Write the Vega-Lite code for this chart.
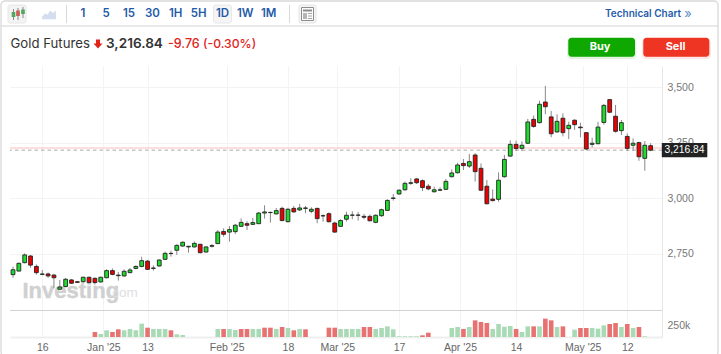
{"$schema":"https://vega.github.io/schema/vega-lite/v6.json","width":652,"height":271,"autosize":"none","padding":{"left":10,"top":66,"right":59,"bottom":17},"background":"white","config":{"view":{"stroke":null},"text":{"font":"Inter"}},
"datasets":{"candles":[
{"i":0,"o":2655,"h":2691,"l":2641,"c":2677},{"i":1,"o":2671,"h":2709,"l":2670,"c":2706},{"i":2,"o":2709,"h":2751,"l":2706,"c":2744},{"i":3,"o":2739,"h":2744,"l":2686,"c":2698},{"i":4,"o":2692,"h":2701,"l":2655,"c":2664},{"i":5,"o":2656,"h":2676,"l":2652,"c":2658},{"i":6,"o":2658,"h":2665,"l":2641,"c":2649},{"i":7,"o":2653,"h":2658,"l":2593,"c":2641},{"i":8,"o":2589,"h":2631,"l":2586,"c":2599},{"i":9,"o":2601,"h":2640,"l":2598,"c":2634},
{"i":10,"o":2631,"h":2635,"l":2613,"c":2616},{"i":11,"o":2623,"h":2625,"l":2619,"c":2620},{"i":12,"o":2623,"h":2646,"l":2619,"c":2643},{"i":13,"o":2643,"h":2646,"l":2616,"c":2619},{"i":14,"o":2638,"h":2643,"l":2610,"c":2619},{"i":15,"o":2622,"h":2646,"l":2619,"c":2643},{"i":16,"o":2641,"h":2679,"l":2638,"c":2673},{"i":17,"o":2673,"h":2683,"l":2652,"c":2656},{"i":18,"o":2650,"h":2667,"l":2628,"c":2653},{"i":19,"o":2649,"h":2679,"l":2646,"c":2670},
{"i":20,"o":2664,"h":2685,"l":2661,"c":2676},{"i":21,"o":2683,"h":2697,"l":2679,"c":2692},{"i":22,"o":2692,"h":2736,"l":2688,"c":2718},{"i":23,"o":2716,"h":2721,"l":2676,"c":2679},{"i":24,"o":2683,"h":2697,"l":2673,"c":2685},{"i":25,"o":2694,"h":2724,"l":2691,"c":2721},{"i":26,"o":2724,"h":2759,"l":2721,"c":2751},{"i":27,"o":2750,"h":2763,"l":2736,"c":2751},{"i":28,"o":2765,"h":2792,"l":2744,"c":2787},{"i":29,"o":2784,"h":2805,"l":2781,"c":2801},
{"i":30,"o":2780,"h":2784,"l":2754,"c":2783},{"i":31,"o":2780,"h":2805,"l":2777,"c":2796},{"i":32,"o":2792,"h":2793,"l":2751,"c":2754},{"i":33,"o":2757,"h":2784,"l":2754,"c":2780},{"i":34,"o":2783,"h":2793,"l":2777,"c":2786},{"i":35,"o":2795,"h":2856,"l":2793,"c":2847},{"i":36,"o":2850,"h":2864,"l":2826,"c":2837},{"i":37,"o":2847,"h":2874,"l":2804,"c":2858},{"i":38,"o":2849,"h":2884,"l":2838,"c":2878},{"i":39,"o":2873,"h":2909,"l":2870,"c":2891},
{"i":40,"o":2885,"h":2896,"l":2856,"c":2878},{"i":41,"o":2882,"h":2911,"l":2879,"c":2890},{"i":42,"o":2885,"h":2938,"l":2884,"c":2933},{"i":43,"o":2933,"h":2968,"l":2908,"c":2938},{"i":44,"o":2935,"h":2939,"l":2890,"c":2936},{"i":45,"o":2929,"h":2956,"l":2927,"c":2944},{"i":46,"o":2954,"h":2962,"l":2896,"c":2899},{"i":47,"o":2894,"h":2957,"l":2890,"c":2950},{"i":48,"o":2954,"h":2965,"l":2935,"c":2938},{"i":49,"o":2947,"h":2974,"l":2942,"c":2956},
{"i":50,"o":2954,"h":2965,"l":2932,"c":2956},{"i":51,"o":2941,"h":2959,"l":2932,"c":2950},{"i":52,"o":2954,"h":2957,"l":2887,"c":2908},{"i":53,"o":2920,"h":2927,"l":2894,"c":2921},{"i":54,"o":2930,"h":2936,"l":2890,"c":2894},{"i":55,"o":2888,"h":2894,"l":2844,"c":2847},{"i":56,"o":2873,"h":2905,"l":2870,"c":2899},{"i":57,"o":2905,"h":2939,"l":2894,"c":2923},{"i":58,"o":2923,"h":2941,"l":2905,"c":2924},{"i":59,"o":2923,"h":2938,"l":2899,"c":2924},
{"i":60,"o":2918,"h":2929,"l":2905,"c":2914},{"i":61,"o":2918,"h":2927,"l":2896,"c":2898},{"i":62,"o":2891,"h":2927,"l":2887,"c":2923},{"i":63,"o":2921,"h":2953,"l":2915,"c":2948},{"i":64,"o":2945,"h":2995,"l":2944,"c":2990},{"i":65,"o":2999,"h":3019,"l":2989,"c":3001},{"i":66,"o":3019,"h":3040,"l":3016,"c":3036},{"i":67,"o":3038,"h":3075,"l":3034,"c":3067},{"i":68,"o":3067,"h":3090,"l":3060,"c":3070},{"i":69,"o":3087,"h":3090,"l":3064,"c":3070},
{"i":70,"o":3079,"h":3085,"l":3032,"c":3048},{"i":71,"o":3054,"h":3064,"l":3036,"c":3042},{"i":72,"o":3029,"h":3052,"l":3026,"c":3038},{"i":73,"o":3036,"h":3049,"l":3032,"c":3038},{"i":74,"o":3040,"h":3087,"l":3037,"c":3076},{"i":75,"o":3097,"h":3130,"l":3094,"c":3114},{"i":76,"o":3115,"h":3160,"l":3111,"c":3150},{"i":77,"o":3157,"h":3177,"l":3127,"c":3147},{"i":78,"o":3145,"h":3200,"l":3136,"c":3165},{"i":79,"o":3195,"h":3203,"l":3075,"c":3120},
{"i":80,"o":3135,"h":3157,"l":3032,"c":3036},{"i":81,"o":3054,"h":3082,"l":2972,"c":2975},{"i":82,"o":2996,"h":3040,"l":2986,"c":2989},{"i":83,"o":2995,"h":3117,"l":2984,"c":3081},{"i":84,"o":3097,"h":3195,"l":3093,"c":3175},{"i":85,"o":3190,"h":3261,"l":3187,"c":3243},{"i":86,"o":3243,"h":3260,"l":3213,"c":3224},{"i":87,"o":3225,"h":3257,"l":3213,"c":3239},{"i":88,"o":3248,"h":3358,"l":3245,"c":3344},{"i":89,"o":3356,"h":3373,"l":3318,"c":3324},
{"i":90,"o":3341,"h":3440,"l":3338,"c":3424},{"i":91,"o":3434,"h":3507,"l":3379,"c":3413},{"i":92,"o":3367,"h":3394,"l":3275,"c":3291},{"i":93,"o":3299,"h":3379,"l":3296,"c":3347},{"i":94,"o":3361,"h":3383,"l":3279,"c":3296},{"i":95,"o":3314,"h":3345,"l":3267,"c":3329},{"i":96,"o":3352,"h":3356,"l":3308,"c":3332},{"i":97,"o":3321,"h":3341,"l":3275,"c":3318},{"i":98,"o":3296,"h":3297,"l":3216,"c":3222},{"i":99,"o":3243,"h":3273,"l":3230,"c":3248},
{"i":100,"o":3246,"h":3345,"l":3243,"c":3321},{"i":101,"o":3342,"h":3425,"l":3332,"c":3419},{"i":102,"o":3445,"h":3448,"l":3385,"c":3388},{"i":103,"o":3370,"h":3421,"l":3296,"c":3302},{"i":104,"o":3305,"h":3353,"l":3285,"c":3341},{"i":105,"o":3279,"h":3293,"l":3213,"c":3225},{"i":106,"o":3239,"h":3270,"l":3213,"c":3248},{"i":107,"o":3251,"h":3255,"l":3169,"c":3187},{"i":108,"o":3180,"h":3258,"l":3124,"c":3239},{"i":109,"o":3237,"h":3248,"l":3212,"c":3216.84}],
"volume":[
{"i":14,"v":104000,"s":"r"},{"i":15,"v":62000,"s":"g"},{"i":16,"v":139000,"s":"g"},{"i":17,"v":104000,"s":"r"},{"i":18,"v":160000,"s":"r"},{"i":19,"v":139000,"s":"g"},{"i":20,"v":167000,"s":"g"},{"i":21,"v":139000,"s":"g"},{"i":22,"v":278000,"s":"g"},{"i":23,"v":194000,"s":"r"},{"i":24,"v":167000,"s":"g"},{"i":25,"v":167000,"s":"g"},{"i":26,"v":167000,"s":"g"},{"i":27,"v":139000,"s":"r"},{"i":28,"v":56000,"s":"g"},{"i":29,"v":42000,"s":"g"},
{"i":35,"v":167000,"s":"g"},{"i":36,"v":167000,"s":"r"},{"i":37,"v":167000,"s":"g"},{"i":38,"v":146000,"s":"g"},{"i":39,"v":167000,"s":"r"},{"i":40,"v":167000,"s":"r"},{"i":41,"v":167000,"s":"g"},{"i":42,"v":167000,"s":"g"},{"i":43,"v":194000,"s":"r"},{"i":44,"v":194000,"s":"r"},{"i":45,"v":167000,"s":"g"},{"i":46,"v":208000,"s":"r"},{"i":47,"v":188000,"s":"g"},{"i":48,"v":139000,"s":"r"},{"i":49,"v":167000,"s":"g"},{"i":50,"v":160000,"s":"r"},
{"i":54,"v":194000,"s":"r"},{"i":55,"v":194000,"s":"r"},{"i":56,"v":167000,"s":"g"},{"i":57,"v":167000,"s":"g"},{"i":58,"v":167000,"s":"g"},{"i":59,"v":167000,"s":"g"},{"i":60,"v":208000,"s":"r"},{"i":61,"v":208000,"s":"r"},{"i":62,"v":167000,"s":"g"},{"i":63,"v":188000,"s":"g"},{"i":64,"v":222000,"s":"g"},{"i":65,"v":160000,"s":"g"},{"i":66,"v":14000,"s":"g"},{"i":67,"v":14000,"s":"g"},{"i":68,"v":14000,"s":"g"},{"i":69,"v":14000,"s":"g"},{"i":70,"v":35000,"s":"r"},{"i":71,"v":90000,"s":"r"},
{"i":75,"v":188000,"s":"g"},{"i":76,"v":208000,"s":"g"},{"i":77,"v":167000,"s":"r"},{"i":78,"v":208000,"s":"g"},{"i":79,"v":347000,"s":"r"},{"i":80,"v":312000,"s":"r"},{"i":81,"v":292000,"s":"r"},{"i":82,"v":167000,"s":"g"},{"i":83,"v":271000,"s":"g"},{"i":84,"v":215000,"s":"g"},{"i":85,"v":229000,"s":"g"},{"i":86,"v":167000,"s":"r"},{"i":87,"v":104000,"s":"g"},{"i":88,"v":222000,"s":"g"},{"i":89,"v":222000,"s":"r"},{"i":90,"v":222000,"s":"g"},{"i":91,"v":382000,"s":"r"},{"i":92,"v":347000,"s":"r"},{"i":93,"v":208000,"s":"g"},{"i":94,"v":222000,"s":"r"},
{"i":96,"v":153000,"s":"g"},{"i":97,"v":188000,"s":"r"},{"i":98,"v":188000,"s":"r"},{"i":99,"v":188000,"s":"g"},{"i":100,"v":174000,"s":"g"},{"i":101,"v":243000,"s":"g"},{"i":102,"v":271000,"s":"r"},{"i":103,"v":292000,"s":"r"},{"i":104,"v":208000,"s":"g"},{"i":105,"v":271000,"s":"r"},{"i":106,"v":188000,"s":"g"},{"i":107,"v":208000,"s":"r"},{"i":108,"v":14000,"s":"g"}]},
"data":{"values":[{}]},
"resolve":{"scale":{"y":"independent"}},
"layer":[
{"layer":[
{"mark":{"type":"text","x":12.5,"y":225,"text":"Investing","align":"left","baseline":"middle","font":"Liberation Sans","fontSize":22,"fontWeight":"bold","color":"#d0d0d0","stroke":"#d0d0d0","strokeWidth":0.4}},
{"mark":{"type":"text","x":98.5,"y":226.5,"text":".com","align":"left","baseline":"middle","font":"Liberation Sans","fontSize":13.5,"color":"#dedede"}}]},
{"data":{"name":"candles"},"layer":[
{"data":{"values":[{"p":3226.6}]},"mark":{"type":"rule","color":"#f9bdbd","strokeWidth":1},"encoding":{"y":{"field":"p","type":"quantitative","scale":{"domain":[2373.4,3596.8],"nice":false,"zero":false},"axis":{"orient":"right","title":null,"values":[2750,3000,3250,3500],"format":",d","grid":true,"gridColor":"#f3f3f3","domain":true,"domainColor":"#e6e6e6","ticks":false,"labelPadding":5,"labelColor":"#777","labelFont":"Liberation Sans","labelFontSize":10.5}}}},
{"data":{"values":[{"p":3216.84}]},"mark":{"type":"rule","color":"#aaaaaa","strokeWidth":1,"strokeDash":[3.5,3]},"encoding":{"y":{"field":"p","type":"quantitative"}}},
{"mark":{"type":"rule","color":"#888888","strokeWidth":1},"encoding":{"x":{"field":"i","type":"quantitative","scale":{"domain":[-0.513,110.94],"nice":false,"zero":false,"padding":0},"axis":{"orient":"bottom","title":null,"values":[5,15.44,23,36.53,47,55.44,66,76.41,86,97.38,105],"labelExpr":"{'5':'16','15.44':\"Jan '25\",'23':'13','36.53':\"Feb '25\",'47':'18','55.44':\"Mar '25\",'66':'17','76.41':\"Apr '25\",'86':'14','97.38':\"May '25\",'105':'12'}[datum.value]","grid":true,"gridColor":"#f3f3f3","domain":true,"domainColor":"#efefef","domainWidth":2,"ticks":false,"labelPadding":5,"labelColor":"#666","labelFont":"Liberation Sans","labelFontSize":10.5,"labelOverlap":false,"labelBound":false,"labelFlush":false}},"y":{"field":"l","type":"quantitative"},"y2":{"field":"h"}}},
{"mark":{"type":"bar","orient":"vertical","size":3.8,"stroke":"#222222","strokeWidth":0.9},"encoding":{"x":{"field":"i","type":"quantitative"},"y":{"field":"o","type":"quantitative"},"y2":{"field":"c"},"color":{"condition":{"test":"datum.c>=datum.o","value":"#1edc2c"},"value":"#ee0000"}}},
{"data":{"values":[{"p":3216.84}]},"mark":{"type":"rect","x":651.8,"x2":697.3,"height":14.4,"color":"#222222"},"encoding":{"y":{"field":"p","type":"quantitative"}}},
{"data":{"values":[{"p":3216.84,"t":"3,216.84"}]},"mark":{"type":"text","x":674.5,"align":"center","baseline":"middle","font":"Liberation Sans","fontSize":10.3,"color":"white"},"encoding":{"y":{"field":"p","type":"quantitative"},"text":{"field":"t"}}}]},
{"data":{"name":"volume"},"mark":{"type":"bar","orient":"vertical","size":4.6},"encoding":{"x":{"field":"i","type":"quantitative"},"y":{"field":"v","type":"quantitative","scale":{"domain":[0,5646000],"nice":false},"axis":{"orient":"right","title":null,"values":[250000],"labelExpr":"'250k'","grid":false,"domain":false,"ticks":false,"labelPadding":5,"labelColor":"#777","labelFont":"Liberation Sans","labelFontSize":10.5}},"color":{"condition":{"test":"datum.s=='r'","value":"#e87171"},"value":"#a9dab6"}}},
{"layer":[
{"mark":{"type":"rect","x":0,"x2":652,"y":244,"y2":245,"color":"#d2d2d2"}},
{"mark":{"type":"rect","x":-9,"x2":708,"y":-65,"y2":290,"fill":null,"stroke":"#d9d9d9","strokeWidth":1.3,"cornerRadius":4}},
{"mark":{"type":"rect","x":-9,"x2":708,"y":-40.5,"y2":-39.5,"color":"#d4d4d4"}},
{"mark":{"type":"rect","x":-2,"x2":16,"y":-61,"y2":-43,"fill":"#f3f3f3","stroke":"#e6e6e6","cornerRadius":2}},
{"mark":{"type":"rect","x":1.7,"x2":5.3,"y":-54,"y2":-49,"color":"#38b54a"}},
{"mark":{"type":"rect","x":6.2,"x2":9.8,"y":-55.5,"y2":-50,"color":"#e2473f"}},
{"mark":{"type":"rect","x":11.2,"x2":14.8,"y":-56.5,"y2":-52,"color":"#38b54a"}},
{"mark":{"type":"rect","x":3,"x2":4,"y":-57,"y2":-46,"color":"#888"}},
{"mark":{"type":"rect","x":7.5,"x2":8.5,"y":-58,"y2":-46,"color":"#888"}},
{"mark":{"type":"rect","x":12.5,"x2":13.5,"y":-59,"y2":-48,"color":"#888"}},
{"mark":{"type":"point","x":39,"y":-52,"size":190,"filled":true,"color":"#d2deee","opacity":1,"shape":"M-1,0.35 L-0.55,-0.1 L-0.25,0.1 L0.2,-0.5 L0.55,-0.15 L1,-0.5 L1,0.75 L-1,0.75 Z"}},
{"mark":{"type":"rect","x":56,"x2":57,"y":-61,"y2":-43,"color":"#d8d8d8"}},
{"mark":{"type":"rect","x":279,"x2":280,"y":-61,"y2":-43,"color":"#d8d8d8"}},
{"mark":{"type":"rect","x":203.5,"x2":221.5,"y":-61,"y2":-43,"fill":"#f5f5f5","stroke":"#e8e8e8","cornerRadius":2}},
{"mark":{"type":"rect","x":289,"x2":306,"y":-61,"y2":-43,"fill":"#f5f5f5","stroke":"#e4e4e4","cornerRadius":2}},
{"mark":{"type":"rect","x":291.5,"x2":303.5,"y":-58.5,"y2":-45.5,"fill":"#fbfbfb","stroke":"#8d8d8d"}},
{"mark":{"type":"rect","x":293,"x2":302,"y":-56.5,"y2":-54.5,"color":"#8d8d8d"}},
{"mark":{"type":"rect","x":293,"x2":297,"y":-53,"y2":-47,"color":"#b5b5b5"}},
{"mark":{"type":"rect","x":298,"x2":302,"y":-53,"y2":-52,"color":"#a5a5a5"}},
{"mark":{"type":"rect","x":298,"x2":302,"y":-50.5,"y2":-49.5,"color":"#a5a5a5"}},
{"mark":{"type":"rect","x":298,"x2":302,"y":-48,"y2":-47,"color":"#a5a5a5"}},
{"mark":{"type":"text","x":73,"y":-52.3,"text":"1","fontSize":11.5,"fontWeight":600,"color":"#1f5ba8"}},
{"mark":{"type":"text","x":96,"y":-52.3,"text":"5","fontSize":11.5,"fontWeight":600,"color":"#1f5ba8"}},
{"mark":{"type":"text","x":119,"y":-52.3,"text":"15","fontSize":11.5,"fontWeight":600,"color":"#1f5ba8"}},
{"mark":{"type":"text","x":142.5,"y":-52.3,"text":"30","fontSize":11.5,"fontWeight":600,"color":"#1f5ba8"}},
{"mark":{"type":"text","x":165.7,"y":-52.3,"text":"1H","fontSize":11.5,"fontWeight":600,"color":"#1f5ba8"}},
{"mark":{"type":"text","x":188.7,"y":-52.3,"text":"5H","fontSize":11.5,"fontWeight":600,"color":"#1f5ba8"}},
{"mark":{"type":"text","x":212.5,"y":-52.3,"text":"1D","fontSize":11.5,"fontWeight":600,"color":"#1f5ba8"}},
{"mark":{"type":"text","x":235.3,"y":-52.3,"text":"1W","fontSize":11.5,"fontWeight":600,"color":"#1f5ba8"}},
{"mark":{"type":"text","x":258.7,"y":-52.3,"text":"1M","fontSize":11.5,"fontWeight":600,"color":"#1f5ba8"}},
{"mark":{"type":"text","x":595,"y":-52.3,"text":"Technical Chart","align":"left","fontSize":10,"fontWeight":600,"color":"#1f5ba8"}},
{"mark":{"type":"text","x":678,"y":-52.3,"text":"»","fontSize":13,"color":"#5f8cc4"}},
{"mark":{"type":"text","x":0.5,"y":-22,"text":"Gold Futures","align":"left","fontSize":13.2,"color":"#333333"}},
{"mark":{"type":"point","x":88,"y":-22,"size":80,"filled":true,"opacity":1,"color":"#e2231a","shape":"M-0.45,-1 L0.45,-1 L0.45,-0.1 L1,-0.1 L0,1 L-1,-0.1 L-0.45,-0.1 Z"}},
{"mark":{"type":"text","x":96,"y":-22,"text":"3,216.84","align":"left","fontSize":13.6,"fontWeight":600,"color":"#333333"}},
{"mark":{"type":"text","x":158,"y":-22,"text":"-9.76","align":"left","fontSize":12.5,"fontWeight":500,"color":"#e2231a"}},
{"mark":{"type":"text","x":193,"y":-22,"text":"(-0.30%)","align":"left","fontSize":12.2,"fontWeight":500,"color":"#e2231a"}},
{"mark":{"type":"rect","x":557,"x2":626.5,"y":-27,"y2":-7,"color":"#0ea800","opacity":0.12,"cornerRadius":4}},
{"mark":{"type":"rect","x":632,"x2":701,"y":-27,"y2":-7,"color":"#ee3524","opacity":0.12,"cornerRadius":4}},
{"mark":{"type":"rect","x":558.3,"x2":625,"y":-28.3,"y2":-9.3,"color":"#0ea800","cornerRadius":3}},
{"mark":{"type":"rect","x":633.3,"x2":699.3,"y":-28.3,"y2":-9.3,"color":"#ee3524","cornerRadius":3}},
{"mark":{"type":"text","x":590,"y":-19,"text":"Buy","fontSize":11,"fontWeight":700,"color":"white"}},
{"mark":{"type":"text","x":665.5,"y":-19,"text":"Sell","fontSize":11,"fontWeight":700,"color":"white"}}
]}
]}
